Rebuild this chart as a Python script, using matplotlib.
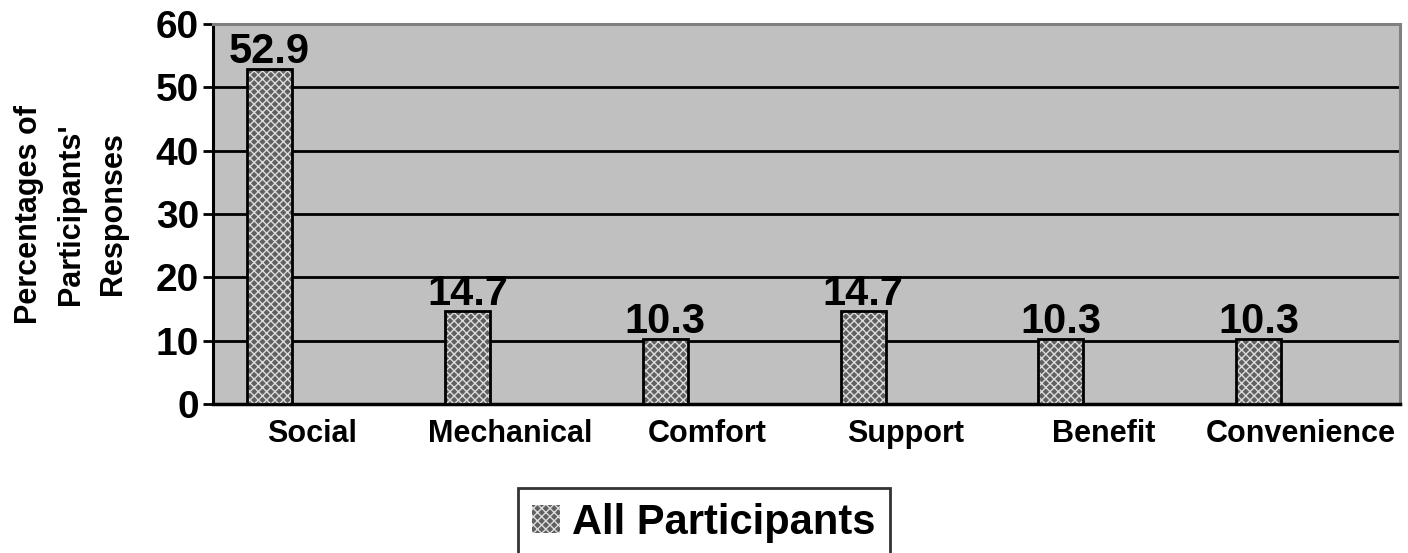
import matplotlib
matplotlib.use("Agg")
import matplotlib.pyplot as plt
import numpy as np

categories = ["Social", "Mechanical", "Comfort", "Support", "Benefit", "Convenience"]
values = [52.9, 14.7, 10.3, 14.7, 10.3, 10.3]
value_labels = ["52.9", "14.7", "10.3", "14.7", "10.3", "10.3"]
series_name = "All Participants"
yticks = [0, 10, 20, 30, 40, 50, 60]

plt.rcParams['font.family'] = ['Liberation Sans', 'DejaVu Sans']
plt.rcParams['font.weight'] = 'bold'
plt.rcParams['hatch.linewidth'] = 1.0

fig = plt.figure(figsize=(14.08, 5.53), dpi=100)
ax = fig.add_axes([0.1513, 0.2694, 0.9943 - 0.1513, 0.9566 - 0.2694])
ax.set_facecolor('#c0c0c0')

x = np.arange(len(categories))
offset = -0.214
width = 0.2275

bars = ax.bar(x + offset, values, width, color='#606060', edgecolor='#dcdcdc',
              hatch='xxxx', linewidth=0, zorder=3, label=series_name)
ax.bar(x + offset, values, width, fill=False, edgecolor='black', linewidth=2, zorder=4)

for xi, v, lab in zip(x, values, value_labels):
    ax.text(xi + offset, v + 0.9, lab, ha='center', va='baseline', fontsize=30,
            fontweight='bold', zorder=5)

ax.set_xlim(-0.5, len(categories) - 0.5)
ax.set_ylim(0, 60)
ax.set_yticks(yticks)
ax.set_yticklabels([str(t) for t in yticks], fontsize=28, fontweight='bold')
ax.set_xticks(x)
ax.set_xticklabels(categories, fontsize=22, fontweight='bold')
ax.tick_params(axis='x', length=0, pad=11)
ax.tick_params(axis='y', length=7, width=2, direction='out', pad=3)

for t in yticks[1:-1]:
    ax.axhline(t, color='black', linewidth=2, zorder=1)

ax.spines['left'].set_linewidth(2.2)
ax.spines['bottom'].set_linewidth(2.5)
ax.spines['top'].set_color('#808080')
ax.spines['top'].set_linewidth(2.2)
ax.spines['right'].set_color('#808080')
ax.spines['right'].set_linewidth(2.2)

fig.text(71 / 1408, 0.613, "Percentages of\nParticipants'\nResponses", rotation=90,
         ha='center', va='center', multialignment='center', fontsize=22,
         fontweight='bold', linespacing=1.5)

leg = fig.legend(handles=[bars], labels=[series_name], loc='upper center',
                 bbox_to_anchor=(0.5, 0.1175), borderaxespad=0, fontsize=30,
                 frameon=True, fancybox=False, edgecolor='black', handlelength=0.65,
                 handleheight=0.65, handletextpad=0.3, borderpad=0.35)
leg.get_frame().set_linewidth(2)
for t in leg.get_texts():
    t.set_fontweight('bold')

fig.savefig("out.png", dpi=100)
